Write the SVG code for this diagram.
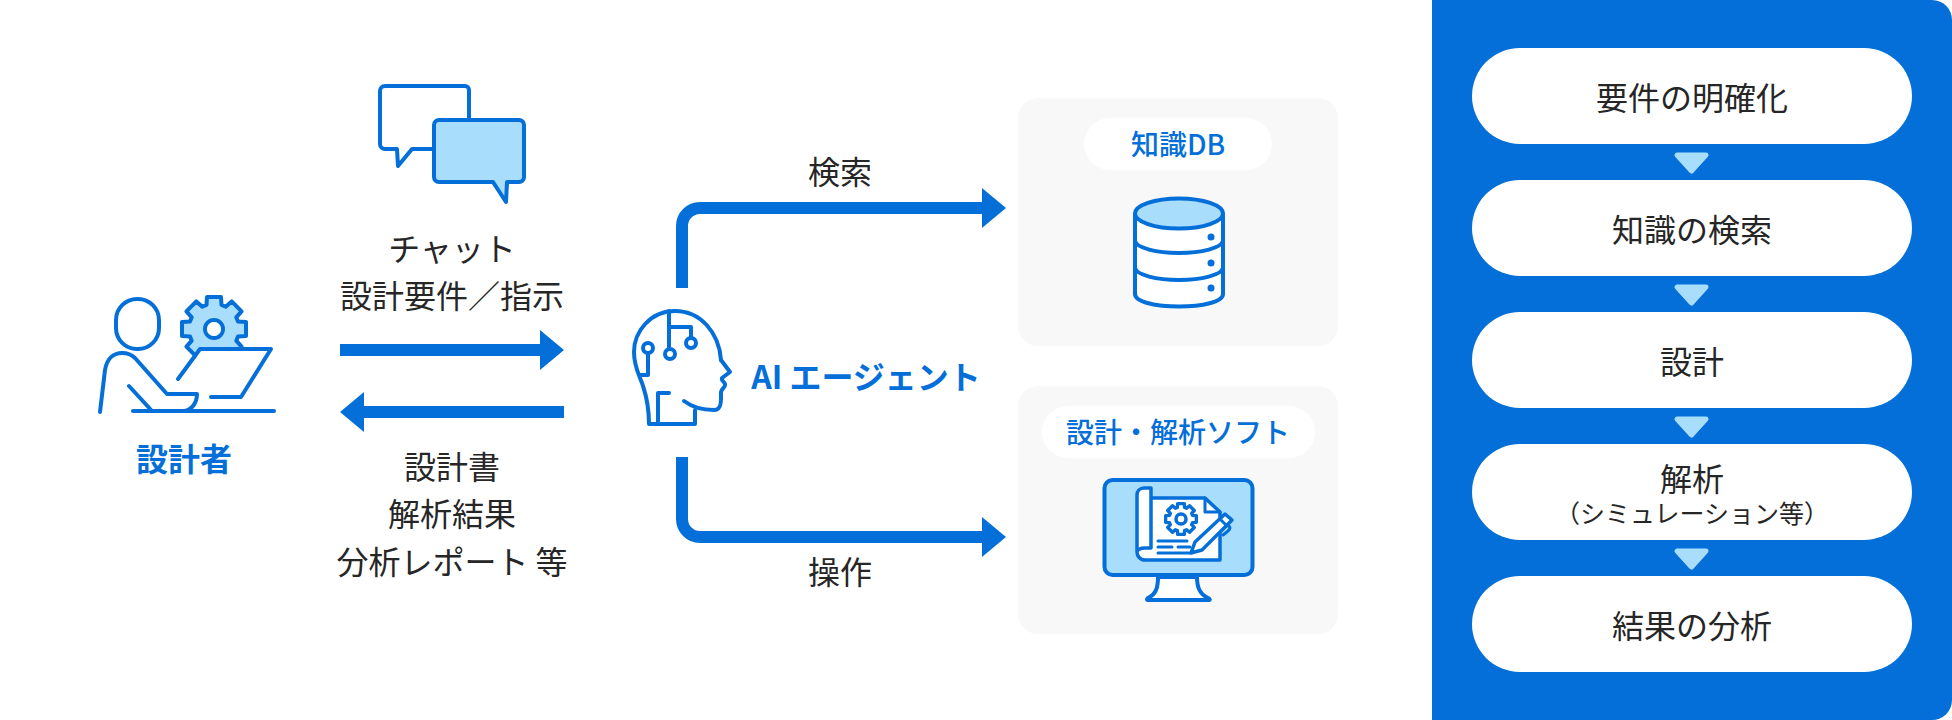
<svg xmlns="http://www.w3.org/2000/svg" width="1952" height="720" viewBox="0 0 1952 720">
<style>
text{font-family:"Noto Sans CJK JP","Noto Sans",sans-serif;text-anchor:middle;dominant-baseline:central}
.t{font-size:32px;fill:#262626}
.s{font-size:25px;fill:#262626}
.b{font-size:32px;fill:#046fd9;font-weight:700}
.m{font-size:28px;fill:#046fd9;font-weight:500}
.pill{fill:#fff}
.tri{fill:#a8ddfb;stroke:#a8ddfb;stroke-width:5;stroke-linejoin:round}
.card{fill:#f8f8f8}
.ln{fill:none;stroke:#046fd9;stroke-width:4;stroke-linecap:round;stroke-linejoin:round}
.wh{fill:#fff;stroke:#046fd9;stroke-width:4;stroke-linecap:round;stroke-linejoin:round}
.lb{fill:#a8ddfb;stroke:#046fd9;stroke-width:4;stroke-linecap:round;stroke-linejoin:round}
.cn{fill:none;stroke:#046fd9;stroke-width:12}
.ah{fill:#046fd9}
</style>
<defs>
<polygon id="gear" points="24,-7.5 32,-7 32,7 24,7.5 22.27,11.67 27.58,17.68 17.68,27.58 11.67,22.27 7.5,24 7,32 -7,32 -7.5,24 -11.67,22.27 -17.68,27.58 -27.58,17.68 -22.27,11.67 -24,7.5 -32,7 -32,-7 -24,-7.5 -22.27,-11.67 -27.58,-17.68 -17.68,-27.58 -11.67,-22.27 -7.5,-24 -7,-32 7,-32 7.5,-24 11.67,-22.27 17.68,-27.58 27.58,-17.68 22.27,-11.67"/>
</defs>
<rect width="1952" height="720" fill="#fff"/>
<g id="panel">
<path d="M1432,0H1932a20,20 0 0 1 20,20V700a20,20 0 0 1 -20,20H1432Z" fill="#046fd9"/>
</g>
<g id="step1"><rect class="pill" x="1472" y="48" width="440" height="96" rx="48"/><text class="t" x="1692" y="96">要件の明確化</text></g>
<g id="step2"><rect class="pill" x="1472" y="180" width="440" height="96" rx="48"/><text class="t" x="1692" y="228">知識の検索</text></g>
<g id="step3"><rect class="pill" x="1472" y="312" width="440" height="96" rx="48"/><text class="t" x="1692" y="360">設計</text></g>
<g id="step4"><rect class="pill" x="1472" y="444" width="440" height="96" rx="48"/><text class="t" x="1692" y="477">解析</text><text class="s" x="1692" y="512">（シミュレーション等）</text></g>
<g id="step5"><rect class="pill" x="1472" y="576" width="440" height="96" rx="48"/><text class="t" x="1692" y="624">結果の分析</text></g>
<g id="step-arrows">
<polygon class="tri" points="1677,155 1706,155 1691.5,171"/>
<polygon class="tri" points="1677,287 1706,287 1691.5,303"/>
<polygon class="tri" points="1677,419 1706,419 1691.5,435"/>
<polygon class="tri" points="1677,551 1706,551 1691.5,567"/>
</g>
<g id="connectors">
<path class="ah" d="M340,344H540V330L564,350L540,370V356H340Z"/>
<path class="ah" d="M564,406H364V392L340,412L364,432V418H564Z"/>
<path class="cn" d="M682,288V226a18,18 0 0 1 18,-18H982"/>
<polygon class="ah" points="982,188 1006,208 982,228"/>
<path class="cn" d="M682,457V519a18,18 0 0 0 18,18H982"/>
<polygon class="ah" points="982,517 1006,537 982,557"/>
</g>
<g id="designer">
<use href="#gear" x="214" y="329" class="lb"/>
<polygon points="200,349 271,349 241,397 178,397" fill="#fff"/>
<rect class="ln" x="116" y="299" width="43" height="50" rx="21"/>
<path class="ln" d="M100,412L105,370C107,358 114,353 122,353C128,353 132,355 135,358L167,394H197C197,402 192,411 183,411"/>
<path class="ln" d="M129,386L152,411M133,411H274M178,379L200,349H271L241,397H211"/>
<circle class="ln" cx="214" cy="329" r="9"/>
<circle cx="214" cy="329" r="7" fill="#fff"/>
<text class="b" x="184" y="457">設計者</text>
</g>
<g id="chat">
<path class="wh" d="M385,86H465a4,4 0 0 1 4,4V145a4,4 0 0 1 -4,4H412L398,166L397,149H385a5,5 0 0 1 -5,-5V91a5,5 0 0 1 5,-5Z"/>
<path class="lb" d="M439,120H519a5,5 0 0 1 5,5V177a5,5 0 0 1 -5,5H507L506,202L493,182H439a5,5 0 0 1 -5,-5V125a5,5 0 0 1 5,-5Z"/>
<text class="t" x="452" y="247">チャット</text>
<text class="t" x="452" y="294">設計要件／指示</text>
<text class="t" x="452" y="465">設計書</text>
<text class="t" x="452" y="512">解析結果</text>
<text class="t" x="452" y="560">分析レポート 等</text>
</g>
<g id="agent">
<path class="ln" d="M721,360C719,332 700,311 675,311C650,311 634,332 634,352C634,368 640,376 643,386C647,398 649,410 649,424H695V410"/>
<path class="ln" d="M684,401C692,407 703,410 714,410C720,410 721,405 721,398V392C722,388 726,387 725,384C724,381 721,381 722,378L730,372L721,360"/>
<path class="ln" d="M669,311V349M669,327H691V338M648,353V375H640M658,424V393H669"/>
<circle class="ln" cx="670" cy="354" r="5"/>
<circle class="ln" cx="691" cy="343" r="5"/>
<circle class="ln" cx="648" cy="348" r="5"/>
<text class="b" x="866" y="375">AI エージェント</text>
</g>
<text id="label-search" class="t" x="840" y="170">検索</text>
<text id="label-operate" class="t" x="840" y="570">操作</text>
<g id="knowledge-db">
<rect class="card" x="1018" y="98" width="320" height="248" rx="20"/>
<rect class="pill" x="1084" y="118" width="188" height="52" rx="26"/>
<text class="m" x="1178" y="143">知識DB</text>
<path class="wh" d="M1135,214V294C1135,302 1156,306.5 1179,306.5C1202,306.5 1223,302 1223,294V214Z"/>
<ellipse class="lb" cx="1179" cy="213.5" rx="44" ry="15"/>
<path class="ln" d="M1135,241C1137,248 1156,253 1179,253C1202,253 1221,248 1223,241M1135,268C1137,275 1156,280 1179,280C1202,280 1221,275 1223,268"/>
<circle class="ah" cx="1211" cy="237" r="3.5"/>
<circle class="ah" cx="1211" cy="263" r="3.5"/>
<circle class="ah" cx="1211" cy="288" r="3.5"/>
</g>
<g id="software">
<rect class="card" x="1018" y="386" width="320" height="248" rx="20"/>
<rect class="pill" x="1042" y="406" width="273" height="52" rx="26"/>
<text class="m" x="1178" y="431">設計・解析ソフト</text>
<path class="wh" d="M1158,577C1158,588 1156,594 1148,598C1146,600 1147,600 1150,600H1207C1210,600 1211,600 1208,598C1200,594 1197,588 1197,577Z"/>
<rect class="lb" x="1104.5" y="480" width="148" height="95" rx="8"/>
<path class="wh" style="stroke-width:3.5" d="M1151,498H1205L1220,512V560H1145C1140,560 1137,556 1137,552V495C1137,491 1140,488 1144,488H1151V548H1145C1140,548 1137,550 1137,552"/>
<path class="ln" style="stroke-width:3" d="M1205,498V512H1220M1158,541H1187M1158,547H1172M1178,547H1190M1158,553H1190"/>
<use href="#gear" transform="translate(1181,519) scale(.48)" class="wh" style="stroke-width:7"/>
<circle class="ln" style="stroke-width:3.5" cx="1181" cy="519" r="5"/>
<polygon class="wh" style="stroke-width:3.5" points="1225,514 1232,520 1202,550 1191,553 1195,542"/>
<path class="ln" style="stroke-width:3" d="M1220,519L1227,526M1229,526C1231,528 1230,530 1223,535"/>
</g>
</svg>
